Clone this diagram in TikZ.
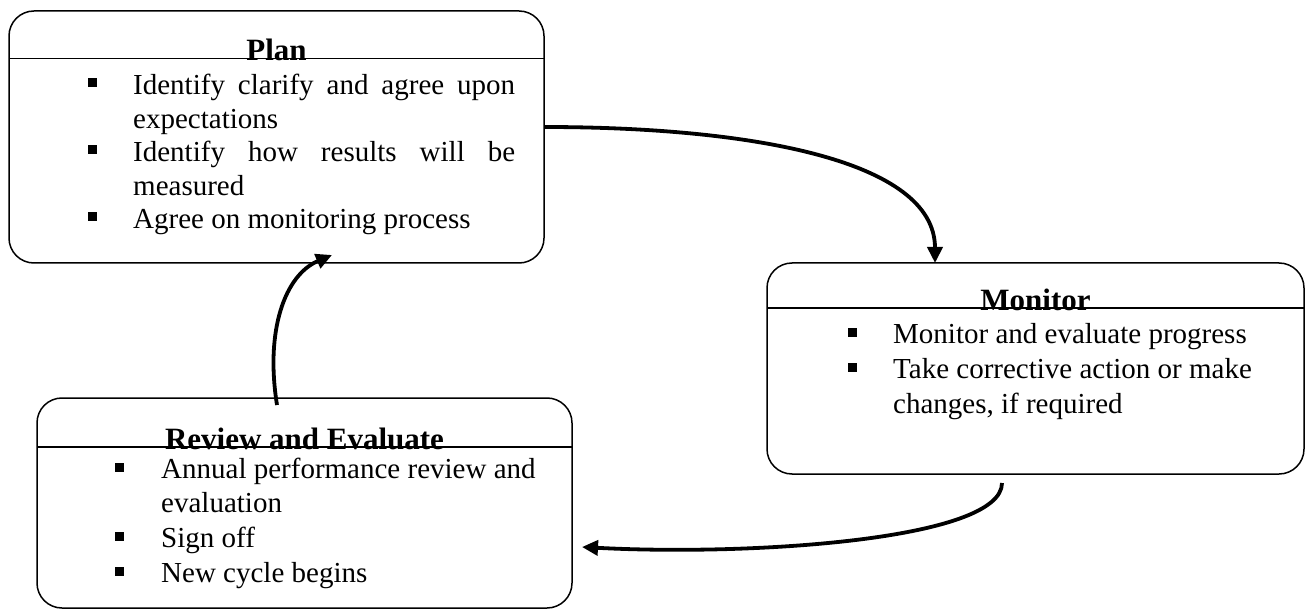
\documentclass[tikz,border=0pt]{standalone}
\usepackage{fontspec}
\setmainfont{Liberation Serif}
\usetikzlibrary{arrows.meta}
\tikzset{
  box/.style={draw, line width=1.5pt, rounded corners=25pt, inner sep=0pt, outer sep=0pt},
  hdr/.style={line width=1.5pt},
  ttl/.style={inner sep=0pt, anchor=base, font=\fontsize{31}{36}\selectfont\bfseries},
  txt/.style={inner sep=0pt, anchor=base west, font=\fontsize{29}{33.5}\selectfont},
  bul/.style={fill=black, inner sep=0pt, minimum size=9pt},
  arr/.style={line width=3.8pt, -{Triangle[length=16pt,width=15pt]}}
}
\begin{document}
\begin{tikzpicture}[x=1pt,y=-1pt]
\useasboundingbox (0,0) rectangle (1308,609);
\fill[white] (0,0) rectangle (1308,609);
% boxes
\node[box, minimum width=535pt, minimum height=252pt] (plan) at (276.5,137) {};
\node[box, minimum width=537pt, minimum height=211pt] (monitor) at (1035.5,368.5) {};
\node[box, minimum width=535pt, minimum height=210pt] (review) at (304.5,503) {};
% header lines
\draw[hdr] ([yshift=-47.5pt]plan.north west) -- ([yshift=-47.5pt]plan.north east);
\draw[hdr] ([yshift=-45pt]monitor.north west) -- ([yshift=-45pt]monitor.north east);
\draw[hdr] ([yshift=-49pt]review.north west) -- ([yshift=-49pt]review.north east);
% titles
\node[ttl] (plant) at (276.5,61) {Plan};
\node[ttl] (mont) at (1035.5,311) {Monitor};
\node[ttl] (revt) at (304.5,449) {Review and Evaluate};
% Plan items
\node[bul] (pb1) at (92.5,83) {};
\node[txt] (p1) at (133,95) {\makebox[382pt][s]{Identify clarify and agree upon}};
\node[txt] (p2) at (133,128.5) {expectations};
\node[bul] (pb2) at (92.5,150) {};
\node[txt] (p3) at (133,162) {\makebox[382pt][s]{Identify how results will be}};
\node[txt] (p4) at (133,195.5) {measured};
\node[bul] (pb3) at (92.5,217) {};
\node[txt] (p5) at (133,229) {Agree on monitoring process};
% Monitor items
\node[bul] (mb1) at (852,332) {};
\node[txt] (m1) at (893,343) {Monitor and evaluate progress};
\node[bul] (mb2) at (852,367) {};
\node[txt] (m2) at (893,378) {Take corrective action or make};
\node[txt] (m3) at (893,413) {changes, if required};
% Review items
\node[bul] (rb1) at (119.5,467.5) {};
\node[txt] (r1) at (161,478) {Annual performance review and};
\node[txt] (r2) at (161,512.5) {evaluation};
\node[bul] (rb2) at (119.5,536.5) {};
\node[txt] (r3) at (161,547) {Sign off};
\node[bul] (rb3) at (119.5,571.5) {};
\node[txt] (r4) at (161,582) {New cycle begins};
% connectors
\draw[arr] ([yshift=10pt]plan.east) .. controls (750,127) and (935,160) .. ([xshift=-100.5pt]monitor.north);
\draw[arr] ([xshift=-33.5pt,yshift=-9pt]monitor.south) .. controls (1002,540) and (750,556) .. ([xshift=10pt,yshift=-44pt]review.east);
\draw[arr] ([xshift=-27.5pt,yshift=-7pt]review.north) .. controls (265,330) and (285,275) .. ([xshift=55.5pt,yshift=8pt]plan.south);
\end{tikzpicture}
\end{document}
